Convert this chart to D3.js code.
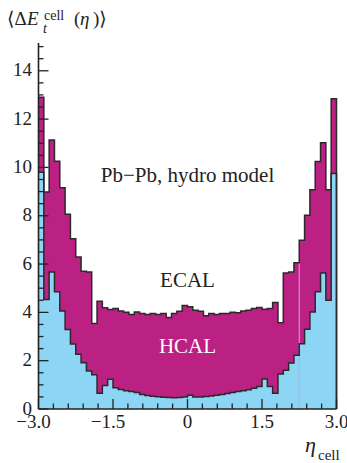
<!DOCTYPE html>
<html>
<head>
<meta charset="utf-8">
<script src="https://cdn.jsdelivr.net/npm/d3@7/dist/d3.min.js"></script>
<style>
    body { margin: 0; background: #fff; }
    svg { display: block; }
</style>
</head>
<body>
<div id="chartdiv"></div>
<script>
/*global d3 */

//eta cell histogram, 56 bins across -3..3
var etaRange = [-3, 3],
    binCount = 56,
    //total (top of magenta, ECAL + HCAL)
    totalVals = [12.9, 8.98, 11.14, 10.26, 9.16, 8.06, 7.05, 6.29, 5.70, 5.67,
                 3.54, 4.46, 4.19, 4.12, 4.16, 4.06, 4.0, 3.91, 4.02, 3.95,
                 3.91, 3.95, 3.91, 3.95, 3.79, 3.95, 4.05, 4.28, 4.23, 4.09,
                 4.05, 3.86, 3.95, 3.91, 3.95, 3.95, 4.0, 3.98, 4.06, 4.09,
                 4.16, 4.2, 4.13, 4.16, 4.41, 3.57, 5.63, 5.67, 6.05, 6.98,
                 8.02, 9.08, 10.25, 11.02, 9.08, 12.84],
    //lower light blue part
    lowerVals = [9.8, 4.53, 5.67, 4.85, 4.06, 3.29, 2.69, 2.27, 1.91, 1.57,
                 1.42, 0.65, 0.97, 1.23, 0.88, 0.81, 0.76, 0.72, 0.68, 0.6,
                 0.56, 0.53, 0.51, 0.49, 0.48, 0.47, 0.48, 0.5, 0.57, 0.5,
                 0.5, 0.52, 0.54, 0.57, 0.6, 0.64, 0.68, 0.72, 0.76, 0.8,
                 0.86, 0.93, 1.24, 0.93, 0.65, 1.45, 1.6, 1.9, 2.22, 2.7,
                 3.3, 4.02, 4.85, 5.63, 4.5, 9.75],
    xMajorTicks = [-3, -1.5, 0, 1.5, 3],
    xTickLabels = ["\u22123.0", "\u22121.5", "0", "1.5", "3.0"],
    yMajorTicks = [0, 2, 4, 6, 8, 10, 12, 14],
    yTickLabels = ["0", "2", "4", "6", "8", "10", "12", "14"],
    notes = [{text: "Pb\u2212Pb, hydro model", x: 0.0, y: 9.4, fill: "#222"},
             {text: "ECAL", x: 0, y: 5.05, fill: "#222"},
             {text: "HCAL", x: 0, y: 2.3, fill: "#fff"}];

(function () {
    "use strict";

    var ch = {w: 347, h: 463, left: 38.5, right: 336.5, top: 43, bottom: 409},
        serif = "'Liberation Serif', 'Times New Roman', 'DejaVu Serif', serif",
        svg, x, y, edges;

    function stepPoints (vals) {
        var pts = [];
        vals.forEach(function (v, i) {
            pts.push([edges[i], v]);
            pts.push([edges[i + 1], v]); });
        return pts;
    }

    function drawHist () {
        var area = d3.area()
                .x(function (d) { return x(d[0]); })
                .y0(function (d) { return y(d[2]); })
                .y1(function (d) { return y(d[1]); }),
            line = d3.line()
                .x(function (d) { return x(d[0]); })
                .y(function (d) { return y(d[1]); }),
            tot = stepPoints(totalVals),
            low = stepPoints(lowerVals);
        svg.append("path")
            .attr("d", area(tot.map(function (p, i) {
                return [p[0], p[1], low[i][1]]; })))
            .attr("fill", "#bb2183");
        svg.append("path")
            .attr("d", area(low.map(function (p) { return [p[0], p[1], 0]; })))
            .attr("fill", "#8dd5f5");
        //faint seam line seen in the original
        svg.append("line")
            .attr("x1", x(edges[49])).attr("x2", x(edges[49]))
            .attr("y1", y(0))
            .attr("y2", y(Math.min(totalVals[48], totalVals[49])))
            .attr("stroke", "#c9a6dc").attr("stroke-width", 1);
        svg.append("path")
            .attr("d", line(low.concat([[etaRange[1], 0]])))
            .attr("fill", "none").attr("stroke", "#2a2a2a")
            .attr("stroke-width", 1.5);
        svg.append("path")
            .attr("d", line(tot.concat([[etaRange[1], 0]])))
            .attr("fill", "none").attr("stroke", "#2a2a2a")
            .attr("stroke-width", 1.5);
    }

    function drawAxes () {
        var g = svg.append("g"),
            yMinor = d3.range(0, 15.01, 0.5),
            xMinor = d3.range(-3, 3.001, 0.3);
        g.selectAll("line.ymin").data(yMinor).enter().append("line")
            .attr("x1", ch.left)
            .attr("x2", function (d) {
                return ch.left + (yMajorTicks.indexOf(d) >= 0 ? 10 : 5); })
            .attr("y1", function (d) { return y(d); })
            .attr("y2", function (d) { return y(d); })
            .attr("stroke", "#222").attr("stroke-width", 1.3);
        g.selectAll("line.xmin").data(xMinor).enter().append("line")
            .attr("y1", ch.bottom)
            .attr("y2", function (d) {
                var maj = xMajorTicks.some(function (t) {
                    return Math.abs(t - d) < 0.01; });
                return ch.bottom - (maj ? 10 : 5.5); })
            .attr("x1", function (d) { return x(d); })
            .attr("x2", function (d) { return x(d); })
            .attr("stroke", "#222").attr("stroke-width", 1.3);
        g.append("line")
            .attr("x1", ch.left).attr("x2", ch.left)
            .attr("y1", ch.top).attr("y2", ch.bottom)
            .attr("stroke", "#222").attr("stroke-width", 1.6);
        g.append("line")
            .attr("x1", ch.left).attr("x2", ch.right)
            .attr("y1", ch.bottom).attr("y2", ch.bottom)
            .attr("stroke", "#222").attr("stroke-width", 1.6);
        g.selectAll("text.ylab").data(yMajorTicks).enter().append("text")
            .attr("x", 32)
            .attr("y", function (d) { return y(d) + 5.5; })
            .attr("text-anchor", "end")
            .attr("font-family", serif)
            .attr("font-size", 19).attr("fill", "#222")
            .text(function (d, i) { return yTickLabels[i]; });
        g.selectAll("text.xlab").data(xMajorTicks).enter().append("text")
            .attr("x", function (d) { return x(d) - (d < 0 ? 5 : 0); })
            .attr("y", 428)
            .attr("text-anchor", "middle")
            .attr("font-family", serif)
            .attr("font-size", 19).attr("fill", "#222")
            .text(function (d, i) { return xTickLabels[i]; });
    }

    function addText (g, str, px, py, size, italic) {
        return g.append("text")
            .attr("x", px).attr("y", py)
            .attr("font-family", serif)
            .attr("font-size", size)
            .attr("font-style", italic ? "italic" : "normal")
            .text(str);
    }

    function drawTitles () {
        var g = svg.append("g").attr("fill", "#222");
        addText(g, "\u27e8\u0394", 7, 25, 19, false);
        addText(g, "E", 27, 25, 19, true);
        addText(g, "cell", 44, 20, 14, false);
        addText(g, "t", 43, 33, 14, true);
        addText(g, "(", 74, 25, 19, false);
        addText(g, "\u03b7", 80, 25, 19, true);
        addText(g, ")\u27e9", 93, 25, 19, false);
        addText(g, "\u03b7", 305, 452, 22, true);
        addText(g, "cell", 318, 460, 15, false);
        g.selectAll("text.note").data(notes).enter().append("text")
            .attr("x", function (d) { return x(d.x); })
            .attr("y", function (d) { return y(d.y); })
            .attr("text-anchor", "middle")
            .attr("font-family", serif)
            .attr("font-size", 21)
            .attr("fill", function (d) { return d.fill; })
            .text(function (d) { return d.text; });
    }

    function display () {
        edges = d3.range(binCount + 1).map(function (i) {
            return etaRange[0] + i * (etaRange[1] - etaRange[0]) / binCount; });
        x = d3.scaleLinear().domain(etaRange).range([ch.left, ch.right]);
        y = d3.scaleLinear().domain([0, 15.15]).range([ch.bottom, ch.top]);
        svg = d3.select("#chartdiv").append("svg")
            .attr("width", ch.w).attr("height", ch.h);
        drawHist();
        drawAxes();
        drawTitles();
    }

    display();
}());
</script>
</body>
</html>
